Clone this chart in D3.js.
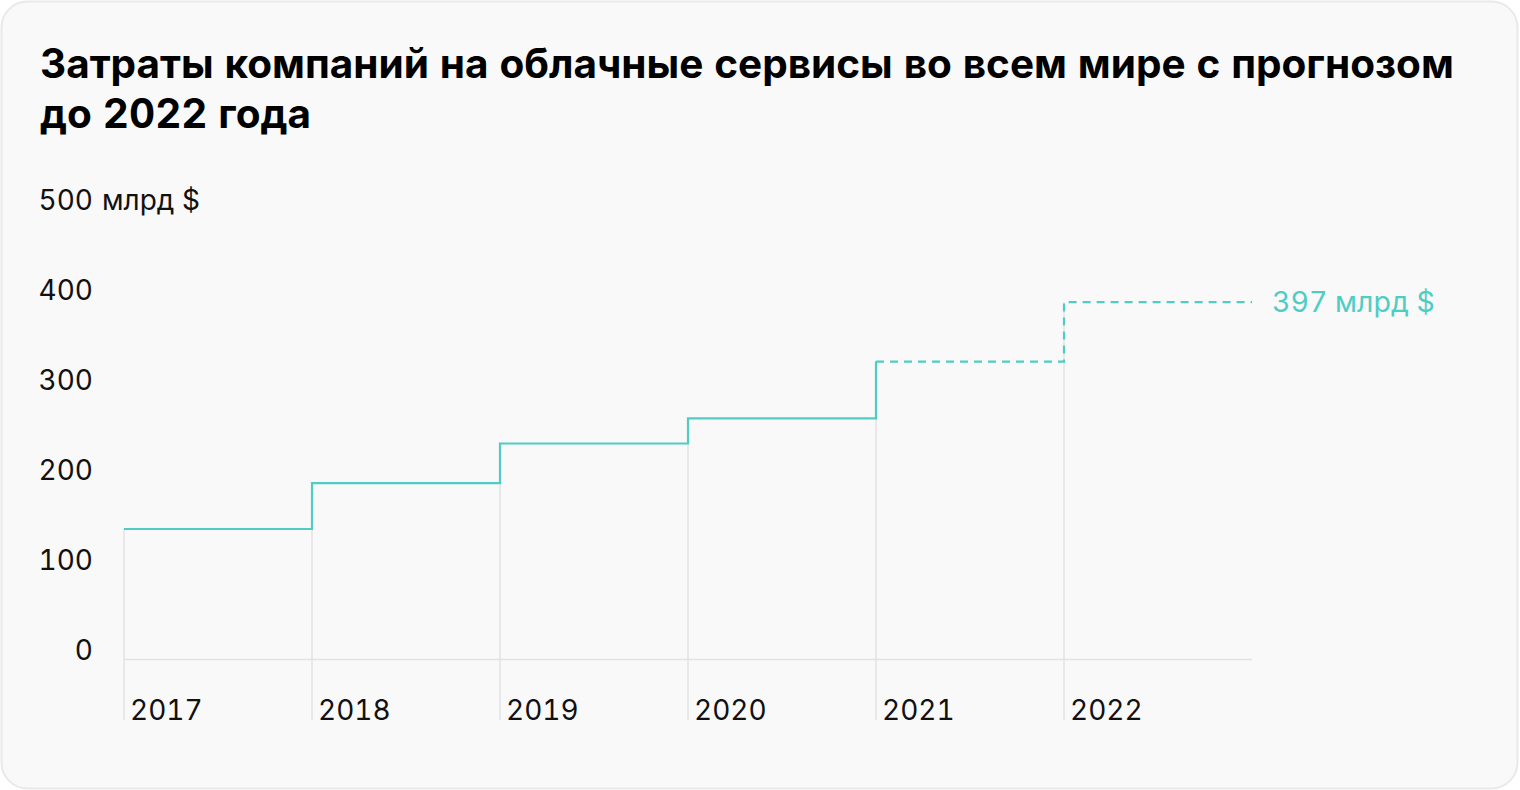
<!DOCTYPE html>
<html lang="ru">
<head>
    <meta charset="UTF-8">
    <script src="https://cdn.jsdelivr.net/npm/d3@7/dist/d3.min.js"></script>
    <title>Облачные сервисы</title>
    <style>
        html, body {
            margin: 0;
            padding: 0;
            background: #ffffff;
        }
        svg {
            display: block;
            font-family: Inter, "Noto Sans", sans-serif;
            font-feature-settings: "tnum";
            font-variant-numeric: tabular-nums;
        }
    </style>
</head>
<body>
    <svg id="chart"></svg>

<script>
    const years = ["2017", "2018", "2019", "2020", "2021", "2022"];
    const spending = [145, 196, 240, 268, 331, 397];
    const forecastFrom = "2021";
    const yTicks = [0, 100, 200, 300, 400, 500];
    const titleLines = [
        "Затраты компаний на облачные сервисы во всем мире с прогнозом",
        "до 2022 года"
    ];
    const unit = "млрд $";

    const width = 1520;
    const height = 790;
    const teal = "#4fcdc4";
    const grid = "#e2e2e2";

    const svg = d3.select("#chart")
        .attr("width", width)
        .attr("height", height);

    svg.append("rect")
        .attr("x", 1.5).attr("y", 1.5)
        .attr("width", width - 4).attr("height", height - 3)
        .attr("rx", 26)
        .attr("fill", "#f9f9f9")
        .attr("stroke", "#e9e9e9")
        .attr("stroke-width", 2);

    svg.append("g")
        .selectAll("text")
        .data(titleLines)
        .join("text")
        .attr("x", 40)
        .attr("y", (d, i) => 78 + i * 50)
        .attr("font-size", 40.5)
        .attr("font-weight", 700)
        .attr("fill", "#000")
        .text(d => d);

    // each year owns a band; the step starts at its left edge
    const x = d3.scaleBand()
        .domain(years)
        .range([124, 1252])
        .padding(0);

    const y = d3.scaleLinear()
        .domain([0, 500])
        .range([659.5, 209.5]);

    const data = years.map((yr, i) => ({year: yr, value: spending[i]}));

    // vertical grid lines at each year start
    svg.append("g")
        .selectAll("line")
        .data(data)
        .join("line")
        .attr("x1", d => x(d.year)).attr("x2", d => x(d.year))
        .attr("y1", d => y(d.value)).attr("y2", 720)
        .attr("stroke", grid)
        .attr("stroke-width", 1.5);

    // baseline
    svg.append("line")
        .attr("x1", x.range()[0]).attr("x2", x.range()[1])
        .attr("y1", y(0)).attr("y2", y(0))
        .attr("stroke", grid)
        .attr("stroke-width", 1.5);

    // y labels
    const yLabels = svg.append("g")
        .attr("font-size", 28)
        .attr("fill", "#111");

    yLabels.selectAll("text")
        .data(yTicks)
        .join("text")
        .attr("x", 93)
        .attr("y", d => y(d))
        .attr("text-anchor", "end")
        .text(d => d);

    yLabels.append("text")
        .attr("x", 102)
        .attr("y", y(yTicks[yTicks.length - 1]))
        .text(unit);

    // x labels
    svg.append("g")
        .attr("font-size", 28)
        .attr("fill", "#111")
        .selectAll("text")
        .data(years)
        .join("text")
        .attr("x", d => x(d) + 6)
        .attr("y", 720)
        .text(d => d);

    // step line: actual part solid, forecast part dashed
    const fi = years.indexOf(forecastFrom);
    const line = d3.line().x(d => d[0]).y(d => d[1]);

    function stepPoints(rows) {
        const out = [];
        rows.forEach(d => {
            out.push([x(d.year), y(d.value)]);
            out.push([x(d.year) + x.bandwidth(), y(d.value)]);
        });
        return out;
    }

    const solidPts = stepPoints(data.slice(0, fi));
    solidPts.push([x(data[fi].year), y(data[fi].value)]);

    svg.append("path")
        .attr("d", line(solidPts))
        .attr("fill", "none")
        .attr("stroke", teal)
        .attr("stroke-width", 2.2);

    svg.append("path")
        .attr("d", line(stepPoints(data.slice(fi))))
        .attr("fill", "none")
        .attr("stroke", teal)
        .attr("stroke-width", 2.2)
        .attr("stroke-dasharray", "8 6");

    const last = data[data.length - 1];
    svg.append("text")
        .attr("x", x(last.year) + x.bandwidth() + 20)
        .attr("y", y(last.value) + 10)
        .attr("font-size", 28.5)
        .attr("fill", teal)
        .text(`${last.value} ${unit}`);
</script>
</body>
</html>
